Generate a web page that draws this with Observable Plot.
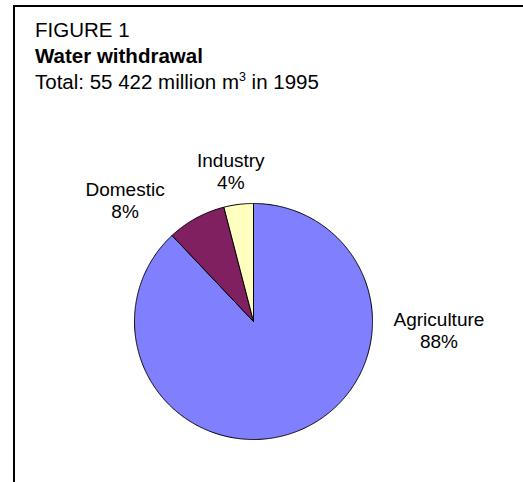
<!DOCTYPE html>
<html><head><meta charset="utf-8">
<script src="https://cdn.jsdelivr.net/npm/d3@7"></script>
<script src="https://cdn.jsdelivr.net/npm/@observablehq/plot@0.6"></script>
<style>
html,body{margin:0;padding:0;background:#fff;overflow:hidden;}
#fig{position:relative;width:523px;height:482px;font-family:"Liberation Sans",Arial,sans-serif;color:#000;}
#frame{position:absolute;left:13px;top:5px;width:700px;height:700px;border-left:2px solid #000;border-top:2px solid #000;}
#title{position:absolute;left:35px;top:17px;font-size:20.5px;line-height:26px;white-space:nowrap;}
#title sup{font-size:12.5px;line-height:0;vertical-align:8px;}
#chart{position:absolute;left:0;top:100px;}
</style>
</head><body>
<div id="fig">
  <div id="frame"></div>
  <div id="title">FIGURE 1<br><b>Water withdrawal</b><br>Total: 55 422 million m<sup>3</sup> in 1995</div>
  <div id="chart"></div>
</div>
<script>
const categories = ["Agriculture", "Domestic", "Industry"];
const shares = [88, 8, 4];
const labels = ["88%", "8%", "4%"];
const colors = ["#8080FF", "#802060", "#FFFFC0"];

// label placement (polar: degrees clockwise from top, distance in radii)
const labelAngle = [92.6, 313.6, 351.5];
const labelDist = [1.56, 1.49, 1.29];

const total = d3.sum(shares);
const pts = [];
let acc = 0;
categories.forEach((c, i) => {
  const a0 = acc / total * 2 * Math.PI;
  acc += shares[i];
  const a1 = acc / total * 2 * Math.PI;
  pts.push({cat: c, x: 0, y: 0});
  const n = Math.max(2, Math.ceil((a1 - a0) / (Math.PI / 360)));
  for (let k = 0; k <= n; k++) {
    const a = a0 + (a1 - a0) * k / n;
    pts.push({cat: c, x: Math.sin(a), y: Math.cos(a)});
  }
  pts.push({cat: c, x: 0, y: 0});
});

const lab = categories.map((c, i) => {
  const a = labelAngle[i] * Math.PI / 180;
  return {cat: c, text: c + "\n" + labels[i], x: labelDist[i] * Math.sin(a), y: labelDist[i] * Math.cos(a)};
});

const chart = Plot.plot({
  width: 523,
  height: 382,
  marginLeft: 134,
  marginRight: 151,
  marginTop: 103,
  marginBottom: 43,
  x: {domain: [-1, 1], axis: null},
  y: {domain: [-1, 1], axis: null},
  color: {domain: categories, range: colors},
  style: {fontFamily: "'Liberation Sans', Arial, sans-serif", background: "transparent", overflow: "visible"},
  marks: [
    Plot.line(pts, {x: "x", y: "y", z: "cat", fill: "cat", stroke: "#000", strokeWidth: 1, strokeLinejoin: "miter"}),
    Plot.text(lab, {x: "x", y: "y", text: "text", fontSize: 19, lineHeight: 1.17, fill: "#000"})
  ]
});
document.getElementById("chart").appendChild(chart);
</script>
</body></html>
